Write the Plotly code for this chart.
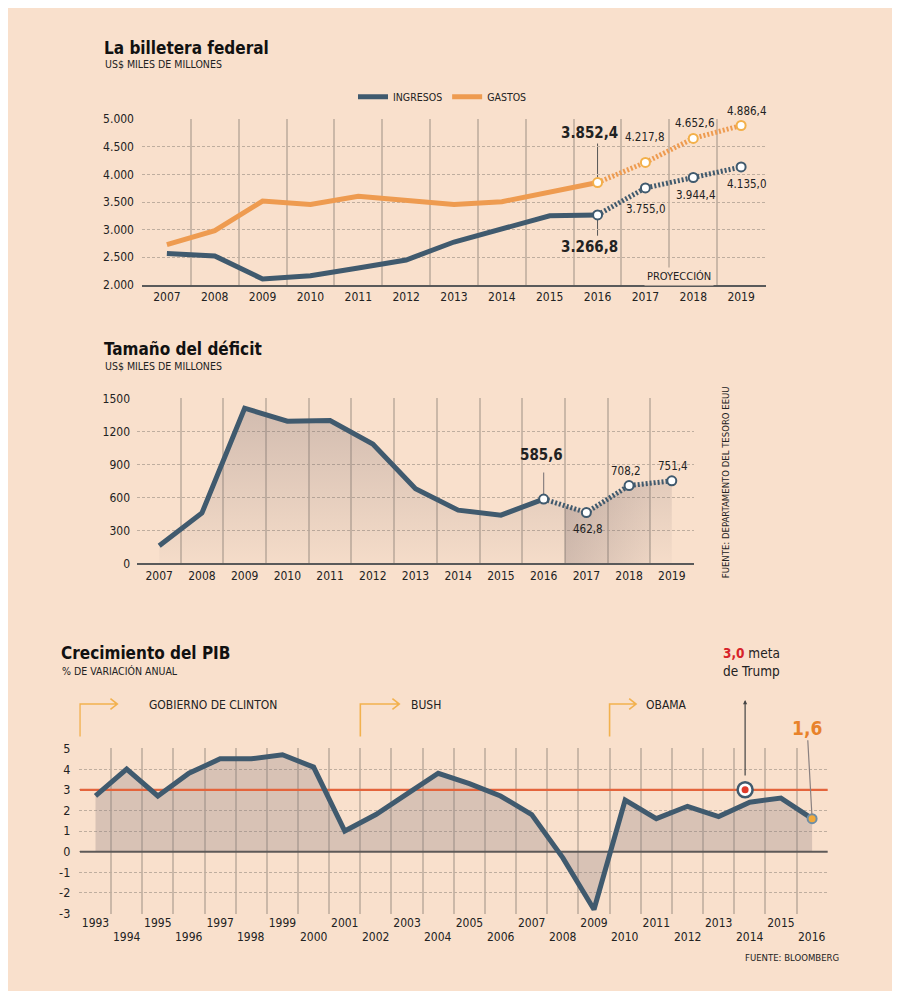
import numpy as np
import plotly.graph_objects as go

# page has an 8px body margin, so the figure is drawn 16px smaller and all
# reference pixel positions are shifted by OFF
OFF = 8
W, H = 900 - 2 * OFF, 999 - 2 * OFF
BG = "#f9e0cc"
BLUE = "#405a6e"
ORANGE = "#ee9b50"
ORANGE_LIGHT = "#f3b04a"
RED = "#e4643c"
GRID_V = "#cbb8a8"
GRID_H = "#bfae9f"
AXIS = "#5a5a5a"
TXT = "#222222"
FONT = "DejaVu Sans Condensed, Liberation Sans Narrow, sans-serif"

# --- data: la billetera federal (US$ miles de millones)
years_fed = [2007, 2008, 2009, 2010, 2011, 2012, 2013, 2014, 2015, 2016]
ingresos = [2568.0, 2524.0, 2105.0, 2162.7, 2303.5, 2450.0, 2775.1, 3021.5, 3249.9, 3266.8]
gastos = [2728.7, 2982.5, 3517.7, 3457.1, 3603.1, 3537.0, 3454.6, 3506.1, 3688.4, 3852.4]
years_proj = [2016, 2017, 2018, 2019]
ingresos_proj = [3266.8, 3755.0, 3944.4, 4135.0]
gastos_proj = [3852.4, 4217.8, 4652.6, 4886.4]
labels_ing_proj = ["3.755,0", "3.944,4", "4.135,0"]
labels_gas_proj = ["4.217,8", "4.652,6", "4.886,4"]

# --- data: tamaño del déficit
years_def = [2007, 2008, 2009, 2010, 2011, 2012, 2013, 2014, 2015, 2016, 2017, 2018, 2019]
deficit = [160.7, 458.6, 1412.7, 1294.4, 1299.6, 1087.0, 679.5, 484.6, 438.5, 585.6, 462.8, 708.2, 751.4]
labels_def_proj = ["462,8", "708,2", "751,4"]

# --- data: crecimiento del PIB (% variación anual)
years_pib = list(range(1993, 2017))
pib = [2.7, 4.0, 2.7, 3.8, 4.5, 4.5, 4.7, 4.1, 1.0, 1.8, 2.8, 3.8,
       3.3, 2.7, 1.8, -0.3, -2.8, 2.5, 1.6, 2.2, 1.7, 2.4, 2.6, 1.6]
pib_ticks = [-3, -2, -1, 0, 1, 2, 3, 4, 5]
meta_trump = 3.0
meta_year = 2013.85
gobiernos = ["GOBIERNO DE CLINTON", "BUSH", "OBAMA"]
gobierno_inicio = [1992.5, 2001.5, 2009.5]


def px(x):
    return (x - OFF) / W


def py(y):
    return 1 - (y - OFF) / H


fig = go.Figure()

# ---------- chart 1
fig.add_trace(go.Scatter(x=years_fed, y=ingresos, mode="lines", name="INGRESOS",
                         line=dict(color=BLUE, width=5), xaxis="x", yaxis="y"))
fig.add_trace(go.Scatter(x=years_fed, y=gastos, mode="lines", name="GASTOS",
                         line=dict(color=ORANGE, width=5), xaxis="x", yaxis="y"))
fig.add_trace(go.Scatter(x=years_proj, y=ingresos_proj, mode="lines+markers", showlegend=False,
                         line=dict(color=BLUE, width=5, dash="2px,2px"),
                         marker=dict(size=9, color="white", line=dict(color=BLUE, width=2)),
                         xaxis="x", yaxis="y"))
fig.add_trace(go.Scatter(x=years_proj, y=gastos_proj, mode="lines+markers", showlegend=False,
                         line=dict(color=ORANGE, width=5, dash="2px,2px"),
                         marker=dict(size=9, color="white", line=dict(color=ORANGE_LIGHT, width=2)),
                         xaxis="x", yaxis="y"))

# ---------- chart 2
fig.add_trace(go.Scatter(x=years_def, y=deficit, mode="none", fill="tozeroy", showlegend=False,
                         fillgradient=dict(type="vertical", start=0, stop=1500,
                                           colorscale=[[0, "rgba(120,105,110,0.03)"],
                                                       [1, "rgba(120,105,110,0.32)"]]),
                         xaxis="x2", yaxis="y2"))
fig.add_trace(go.Scatter(x=years_def[9:], y=deficit[9:], mode="none", fill="tozeroy", showlegend=False,
                         fillgradient=dict(type="horizontal", start=2016, stop=2019,
                                           colorscale=[[0, "rgba(110,95,100,0)"],
                                                       [0.166, "rgba(110,95,100,0)"],
                                                       [0.167, "rgba(110,95,100,0.26)"],
                                                       [0.833, "rgba(110,95,100,0.06)"],
                                                       [0.834, "rgba(110,95,100,0)"],
                                                       [1, "rgba(110,95,100,0)"]]),
                         xaxis="x2", yaxis="y2"))
fig.add_trace(go.Scatter(x=years_def[:10], y=deficit[:10], mode="lines", showlegend=False,
                         line=dict(color=BLUE, width=5), xaxis="x2", yaxis="y2"))
fig.add_trace(go.Scatter(x=years_def[9:], y=deficit[9:], mode="lines+markers", showlegend=False,
                         line=dict(color=BLUE, width=5, dash="2px,2px"),
                         marker=dict(size=9, color="white", line=dict(color=BLUE, width=2)),
                         xaxis="x2", yaxis="y2"))

# ---------- chart 3
pib_range = [1992.5, 2016.5]
fig.add_trace(go.Scatter(x=years_pib, y=pib, mode="none", fill="tozeroy", showlegend=False,
                         fillcolor="rgba(140,125,130,0.30)", xaxis="x3", yaxis="y3"))
fig.add_trace(go.Scatter(x=pib_range, y=[meta_trump, meta_trump], mode="lines", showlegend=False,
                         line=dict(color=RED, width=2.2), xaxis="x3", yaxis="y3"))
fig.add_trace(go.Scatter(x=pib_range, y=[0, 0], mode="lines", showlegend=False,
                         line=dict(color="#5e5a58", width=2), xaxis="x3", yaxis="y3"))
fig.add_trace(go.Scatter(x=years_pib, y=pib, mode="lines", showlegend=False,
                         line=dict(color=BLUE, width=5), xaxis="x3", yaxis="y3"))
fig.add_trace(go.Scatter(x=[years_pib[-1]], y=[pib[-1]], mode="markers", showlegend=False,
                         marker=dict(size=9, color="#f2a93b", line=dict(color="#6f8ea5", width=2)),
                         xaxis="x3", yaxis="y3"))
fig.add_trace(go.Scatter(x=[meta_year], y=[meta_trump], mode="markers", showlegend=False,
                         marker=dict(size=15, color="white", line=dict(color=BLUE, width=2.5)),
                         xaxis="x3", yaxis="y3"))
fig.add_trace(go.Scatter(x=[meta_year], y=[meta_trump], mode="markers", showlegend=False,
                         marker=dict(size=7, color="#e03a2a"), xaxis="x3", yaxis="y3"))

ann = []
shapes = []


def text(x, y, t, size=12, bold=False, color=TXT, xanchor="left", **kw):
    if bold:
        t = "<b>" + t + "</b>"
    ann.append(dict(x=px(x), y=py(y), xref="paper", yref="paper", text=t, showarrow=False,
                    xanchor=xanchor, yanchor="middle", font=dict(size=size, color=color), **kw))


text(102, 41, "La billetera federal", size=17, bold=True, color="#111")
text(103, 58, "US$ MILES DE MILLONES", size=10.5)
text(102, 347, "Tamaño del déficit", size=17, bold=True, color="#111")
text(103, 364, "US$ MILES DE MILLONES", size=10.5)
text(59, 655, "Crecimiento del PIB", size=17, bold=True, color="#111")
text(60, 673, "% DE VARIACIÓN ANUAL", size=10.5)
text(679, 273, "PROYECCIÓN", size=11, xanchor="center", bgcolor=BG, borderpad=2)
text(725, 482, "FUENTE: DEPARTAMENTO DEL TESORO EEUU", size=9.5, xanchor="center", textangle=-90)
text(841, 964, "FUENTE: BLOOMBERG", size=9.5, xanchor="right")


def label(x, y, t, dx, dy, xa, ya, size=11.5, bold=False):
    if bold:
        t = "<b>" + t + "</b>"
    ann.append(dict(x=x, y=y, xref=xa, yref=ya, text=t, showarrow=False, xshift=dx, yshift=dy,
                    font=dict(size=size, color=TXT)))


# chart 1 labels
label(years_proj[0], gastos_proj[0], "3.852,4", -8, 50, "x", "y", size=15, bold=True)
label(years_proj[0], ingresos_proj[0], "3.266,8", -8, -32, "x", "y", size=15, bold=True)
for yr, v, t, dx, dy in zip(years_proj[1:], gastos_proj[1:], labels_gas_proj, [-1, 1, 5], [25, 15, 15]):
    label(yr, v, t, dx, dy, "x", "y")
for yr, v, t, dx, dy in zip(years_proj[1:], ingresos_proj[1:], labels_ing_proj, [0, 2, 5], [-21, -17, -17]):
    label(yr, v, t, dx, dy, "x", "y")
shapes.append(dict(type="line", xref="x", yref="y", x0=2016, x1=2016, y0=gastos_proj[0], y1=4560,
                   line=dict(color="#555", width=1), layer="below"))
shapes.append(dict(type="line", xref="x", yref="y", x0=2016, x1=2016, y0=ingresos_proj[0], y1=2890,
                   line=dict(color="#555", width=1), layer="below"))

# chart 2 labels
label(years_def[9], deficit[9], "585,6", -2, 44, "x2", "y2", size=15, bold=True)
for yr, v, t, dx, dy in zip(years_def[10:], deficit[10:], labels_def_proj, [2, -3, 1], [-16, 15, 15]):
    label(yr, v, t, dx, dy, "x2", "y2")
shapes.append(dict(type="line", xref="x2", yref="y2", x0=2016, x1=2016, y0=deficit[9], y1=828,
                   line=dict(color="#8a8080", width=1.2), layer="below"))

# chart 3: government brackets
br_len = [1.2, 1.25, 0.85]
text_x = [147, 409, 644]
for g, x0, L, tx in zip(gobiernos, gobierno_inicio, br_len, text_x):
    x1 = x0 + L
    yb, yt = py(740), py(707)
    d = 0.22
    e = 5.5 / H
    path = (f"M {x0},{yb} L {x0},{yt} L {x1},{yt} "
            f"M {x1 - d},{yt + e} L {x1},{yt} L {x1 - d},{yt - e}")
    shapes.append(dict(type="path", xref="x3", yref="paper", path=path,
                       line=dict(color="#f2b14e", width=1.6)))
    text(tx, 708, g, size=12)

# trump goal
ann.append(dict(x=meta_year, y=py(703), xref="x3", yref="paper", text=" ", showarrow=True,
                ax=0, ay=84, arrowhead=2, arrowsize=0.7, arrowwidth=1.2, arrowcolor="#444"))
text(721, 664, "<span style='color:#d7232a'><b>3,0</b></span> meta<br>de Trump", size=13.5)
ann.append(dict(x=years_pib[-1], y=pib[-1], xref="x3", yref="y3", text="<b>1,6</b>",
                showarrow=True, ax=-5, ay=-91, arrowhead=0, arrowwidth=1.2, arrowcolor="#8a8080",
                standoff=4, font=dict(size=19, color="#e8822a")))

# x tick labels chart 3: odd years on the axis, even years on a second row
years_odd = [y for y in years_pib if y % 2]
years_even = [y for y in years_pib if y % 2 == 0]
for y in years_even:
    ann.append(dict(x=y, y=py(943.5), xref="x3", yref="paper", text=str(y), showarrow=False,
                    yanchor="middle", font=dict(size=12, color=TXT)))

grid_h = dict(showgrid=True, gridcolor=GRID_H, gridwidth=1, griddash="3px,2px", zeroline=False,
              showline=False, ticks="", fixedrange=True)


def xaxis(dom, anchor, rng, vals, grid_from, lw=2):
    return dict(domain=dom, anchor=anchor, range=[rng[0] - 0.02, rng[1] + 0.02],
                tickmode="array", tickvals=vals, ticktext=[str(v) for v in vals],
                showgrid=False, zeroline=False, showline=lw > 0, linecolor=AXIS, linewidth=max(lw, 1),
                ticks="", fixedrange=True, tickfont=dict(size=12, color=TXT),
                minor=dict(tickmode="array", tickvals=list(np.arange(grid_from, rng[1] + 0.01, 1.0)),
                           showgrid=True, gridcolor=GRID_V, gridwidth=1.5, ticks=""))


years_1 = list(range(2007, 2020))
fig.update_layout(
    width=W, height=H, margin=dict(l=0, r=0, t=0, b=0),
    paper_bgcolor=BG, plot_bgcolor=BG,
    font=dict(family=FONT, size=12, color=TXT),
    separators=",.",
    showlegend=True,
    legend=dict(orientation="h", x=px(353), y=py(91), xanchor="left", yanchor="middle",
                bgcolor="rgba(0,0,0,0)", font=dict(size=10.5, color=TXT), itemwidth=30),
    xaxis=xaxis([px(142), px(766)], "y", [2006.5, 2019.5], years_1, 2007.5),
    yaxis=dict(domain=[py(281.7), py(113.3)], anchor="x", range=[2000, 5008], tickmode="array",
               tickvals=list(range(2000, 5001, 500)), tickformat=",d", ticklabelstandoff=7,
               tickfont=dict(size=12, color=TXT), **grid_h),
    xaxis2=xaxis([px(137), px(694)], "y2", [2006.5, 2019.5], years_1, 2007.5),
    yaxis2=dict(domain=[py(564.3), py(396.7)], anchor="x2", range=[0, 1504], tickmode="array",
                tickvals=list(range(0, 1501, 300)), tickformat="d", ticklabelstandoff=6,
                tickfont=dict(size=12, color=TXT), **grid_h),
    xaxis3=xaxis([px(79.3), px(828.3)], "y3", pib_range, years_odd, 1992.5, lw=0),
    yaxis3=dict(domain=[py(920), py(751.7)], anchor="x3", range=[-3.02, 5.02], tickmode="array",
                tickvals=pib_ticks, ticktext=[str(v) for v in pib_ticks], ticklabelstandoff=8,
                tickfont=dict(size=12.5, color=TXT), **grid_h),
    annotations=ann,
    shapes=shapes,
)

fig.write_html("out.html")
